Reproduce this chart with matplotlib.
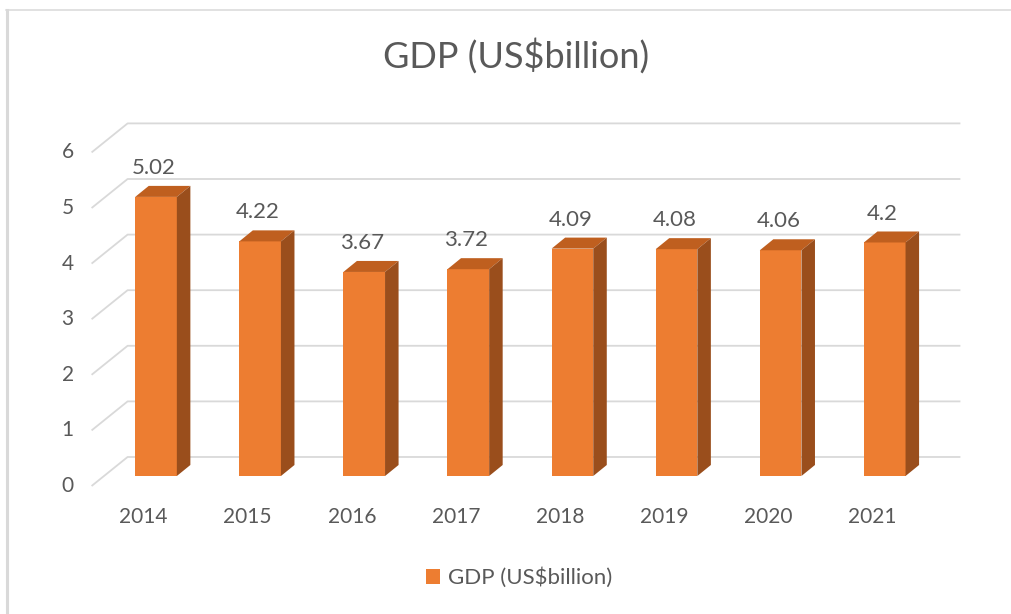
import matplotlib.pyplot as plt
from matplotlib.patches import Polygon
from matplotlib.lines import Line2D

years = ['2014', '2015', '2016', '2017', '2018', '2019', '2020', '2021']
gdp = [5.02, 4.22, 3.67, 3.72, 4.09, 4.08, 4.06, 4.2]
y_ticks = [0, 1, 2, 3, 4, 5, 6]
series_name = 'GDP (US$billion)'

plt.rcParams['font.family'] = ['Lato', 'DejaVu Sans']
txt = '#595959'
grid_c = '#D9D9D9'
front_c = '#ED7D31'
top_c = '#BF5F1F'
side_c = '#9A4E1C'

# perspective offsets, in data units (relative to the bar front plane)
back_dx, back_dy = 0.227, 0.342
floor_dx, floor_dy = -0.119, -0.18
depth_dx, depth_dy = 0.13, 0.198
w = 0.40

fig = plt.figure(figsize=(10.12, 6.14), dpi=100)
ax = fig.add_axes([0.0513, 0.1342, 0.9258, 0.7244])
ax.set_xlim(-1, 8)
ax.set_ylim(-1, 7)
ax.axis('off')

n = len(years)
for v in y_ticks:
    ax.plot([-0.5 + floor_dx, -0.5 + back_dx, n - 0.5 + back_dx],
            [v + floor_dy, v + back_dy, v + back_dy],
            color=grid_c, lw=1.3, zorder=1, solid_capstyle='butt')
    ax.text(-0.79, v + floor_dy, str(v), ha='right', va='center',
            fontsize=15, color=txt)

bars = ax.bar(range(n), gdp, width=w, color=front_c, zorder=3, label=series_name)
for i, v in enumerate(gdp):
    l, r = i - w / 2, i + w / 2
    ax.add_patch(Polygon([(l, v), (r, v), (r + depth_dx, v + depth_dy), (l + depth_dx, v + depth_dy)],
                         closed=True, facecolor=top_c, edgecolor='none', zorder=3))
    ax.add_patch(Polygon([(r, 0), (r + depth_dx, depth_dy), (r + depth_dx, v + depth_dy), (r, v)],
                         closed=True, facecolor=side_c, edgecolor='none', zorder=3))
    ax.text(i - 0.02, v + 0.52, str(v), ha='center', va='center', fontsize=16, color=txt)
    ax.text(i + floor_dx, -0.737, years[i], ha='center', va='center', fontsize=15, color=txt)

fig.text(516 / 1012, 1 - 56 / 614, series_name, ha='center', va='center',
         fontsize=26, color=txt)

leg = fig.legend(handles=[bars], loc='center', bbox_to_anchor=(0.513, 1 - 578 / 614),
                 frameon=False, fontsize=16, handlelength=0.65, handleheight=0.65,
                 handletextpad=0.35, labelcolor=txt)

fig.add_artist(Line2D([7.5 / 1012, 7.5 / 1012], [0, 1 - 10 / 614], color=grid_c, lw=2.2))
fig.add_artist(Line2D([6 / 1012, 1], [1 - 10 / 614, 1 - 10 / 614], color=grid_c, lw=1.1))

plt.savefig('out.png', dpi=100)
